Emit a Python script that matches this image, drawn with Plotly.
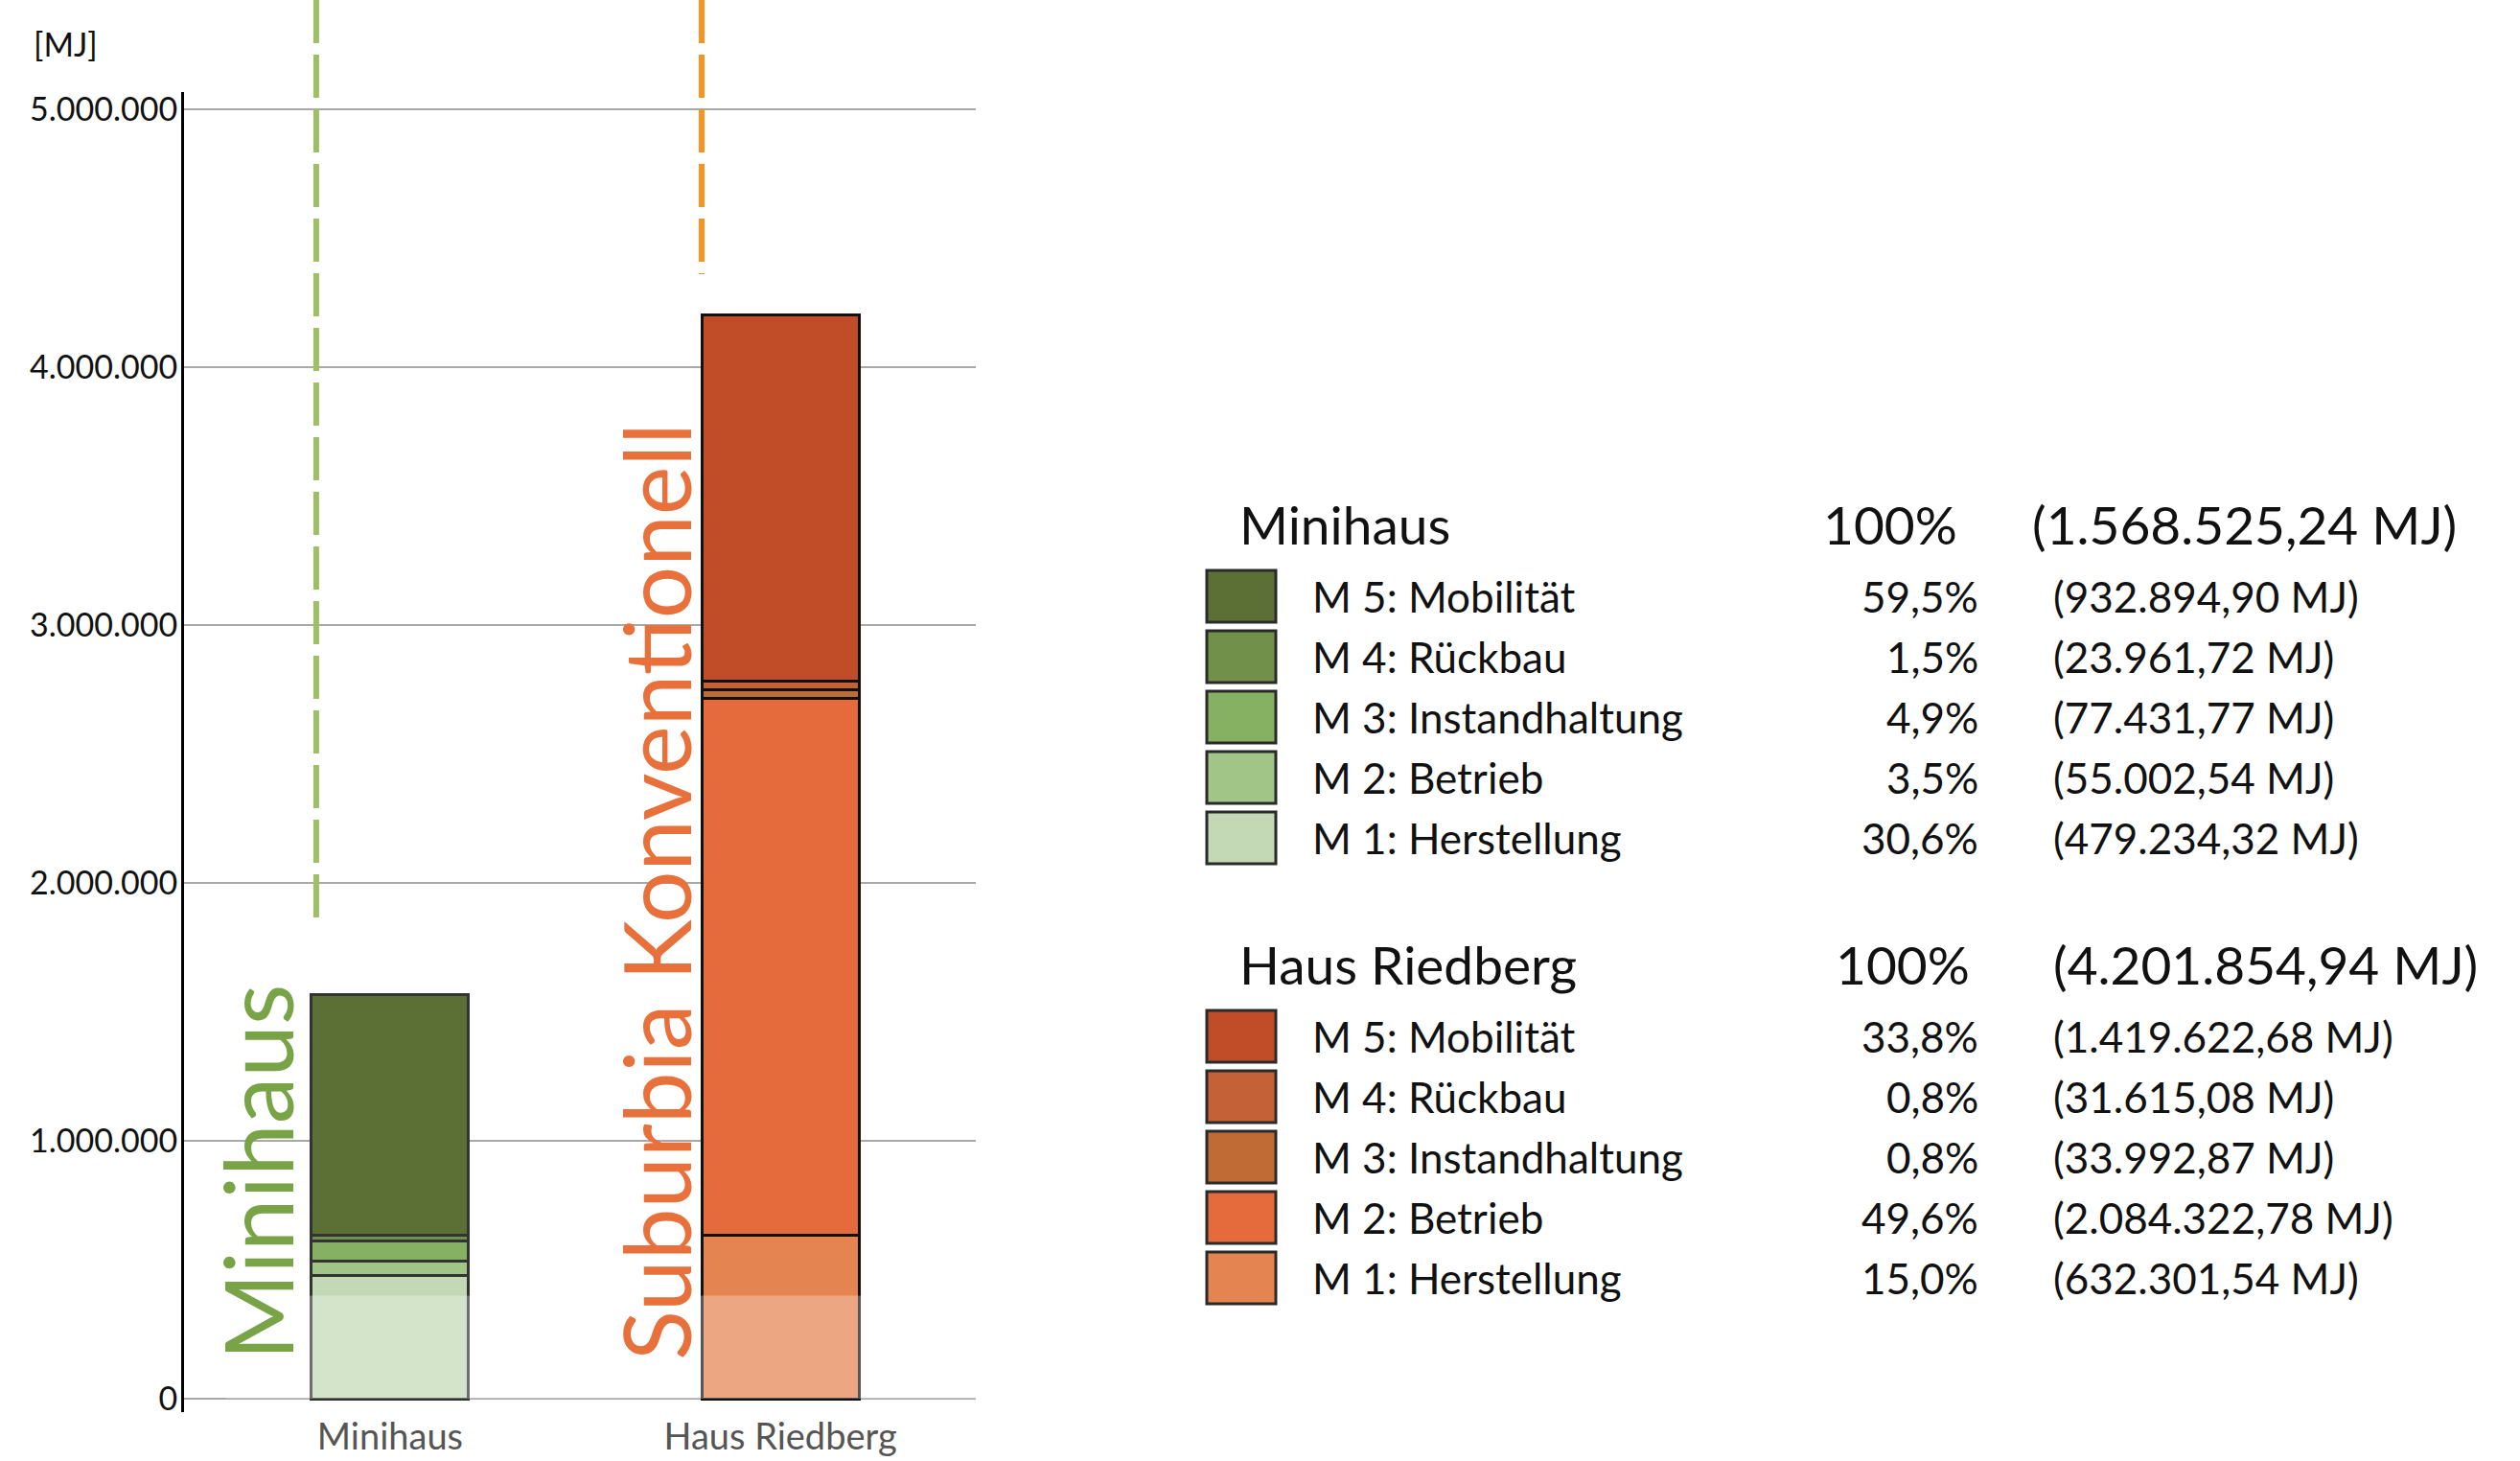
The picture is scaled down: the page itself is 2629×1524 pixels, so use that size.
import plotly.graph_objects as go

W, H = 2629, 1524

houses = ['Minihaus', 'Haus Riedberg']
modules = ['M 1: Herstellung', 'M 2: Betrieb', 'M 3: Instandhaltung', 'M 4: Rückbau', 'M 5: Mobilität']
minihaus_mj = [479234.32, 55002.54, 77431.77, 23961.72, 932894.90]
riedberg_mj = [632301.54, 2084322.78, 33992.87, 31615.08, 1419622.68]
totals_mj = [1568525.24, 4201854.94]
ytick_vals = [0, 1000000, 2000000, 3000000, 4000000, 5000000]
ytick_text = ['0', '1.000.000', '2.000.000', '3.000.000', '4.000.000', '5.000.000']

green = ['#C3D9B5', '#A0C586', '#86B062', '#71904A', '#5C7035']
orange = ['#E48450', '#E56B3C', '#C06A35', '#C46136', '#C04D28']

FONT = 'Lato, Open Sans, sans-serif'

# plot area in pixels
L, R, T, B = 192, 1018, 96, 1473
XR = [-0.528, 1.501]
BAR_W = 0.403


def px_x(px):
    return (px - L) / (R - L)


def px_y(py):
    return (B - py) / (B - T)


def cat_to_paper(v):
    return (v - XR[0]) / (XR[1] - XR[0])


def de_num(v):
    s = f'{v:,.2f}'
    return s.replace(',', '#').replace('.', ',').replace('#', '.')


def de_pct(v, total):
    return f'{100 * v / total:.1f}'.replace('.', ',') + '%'


fig = go.Figure()
for i, m in enumerate(modules):
    fig.add_trace(go.Bar(
        x=[0, 1],
        y=[minihaus_mj[i], riedberg_mj[i]],
        name=m,
        width=BAR_W,
        marker=dict(color=[green[i], orange[i]],
                    line=dict(color=['#333333', '#111111'], width=3)),
        showlegend=False,
    ))

shapes = []
# dashed markers above the bars
for k, col, y_end in [(0, '#A0BE63', 960), (1, '#F7931E', 286)]:
    xp = cat_to_paper(k - BAR_W / 2) + (5 / (R - L) if k == 0 else 0)
    shapes.append(dict(type='line', xref='paper', yref='paper',
                       x0=xp, x1=xp, y0=px_y(0), y1=px_y(y_end),
                       line=dict(color=col, width=6, dash='45px,12px')))
# white fade at the bottom
shapes.append(dict(type='rect', xref='paper', yref='y', x0=px_x(236), x1=1,
                   y0=0, y1=400000, fillcolor='rgba(255,255,255,0.29)',
                   line=dict(width=0), layer='above'))

annotations = [
    dict(text='[MJ]', xref='paper', yref='paper', x=px_x(33), y=px_y(45),
         xanchor='left', yanchor='middle', showarrow=False,
         font=dict(size=34, color='#111111', family=FONT)),
    dict(text='Minihaus', xref='paper', yref='paper', x=px_x(268), y=px_y(1421),
         xanchor='center', yanchor='bottom', textangle=-90, showarrow=False,
         font=dict(size=98, color='#78A347', family=FONT)),
    dict(text='Suburbia Konventionell', xref='paper', yref='paper', x=px_x(683), y=px_y(1421),
         xanchor='center', yanchor='bottom', textangle=-90, showarrow=False,
         font=dict(size=96, color='#E8703A', family=FONT)),
]

# legend table
groups = [(minihaus_mj, green, 547, 622, 2044, 2118), (riedberg_mj, orange, 1006, 1081, 2057, 2140)]
for g, (vals, cols, hy, ry, pct_x, tot_x) in enumerate(groups):
    annotations.append(dict(text=houses[g], xref='paper', yref='paper', x=px_x(1291), y=px_y(hy),
                            xanchor='left', yanchor='middle', showarrow=False,
                            font=dict(size=55, color='#111111', family=FONT)))
    annotations.append(dict(text='100%', xref='paper', yref='paper', x=px_x(pct_x), y=px_y(hy),
                            xanchor='right', yanchor='middle', showarrow=False,
                            font=dict(size=55, color='#111111', family=FONT)))
    annotations.append(dict(text='(' + de_num(totals_mj[g]) + ' MJ)', xref='paper', yref='paper',
                            x=px_x(tot_x), y=px_y(hy),
                            xanchor='left', yanchor='middle', showarrow=False,
                            font=dict(size=55, color='#111111', family=FONT)))
    for r, i in enumerate(range(4, -1, -1)):
        yc = ry + 63 * r
        shapes.append(dict(type='rect', xref='paper', yref='paper',
                           x0=px_x(1259), x1=px_x(1331), y0=px_y(yc - 27), y1=px_y(yc + 27),
                           fillcolor=cols[i], line=dict(color='#2a2a2a', width=3)))
        annotations.append(dict(text=modules[i], xref='paper', yref='paper', x=px_x(1367), y=px_y(yc),
                                xanchor='left', yanchor='middle', showarrow=False,
                                font=dict(size=44, color='#111111', family=FONT)))
        annotations.append(dict(text=de_pct(vals[i], totals_mj[g]), xref='paper', yref='paper',
                                x=px_x(2066), y=px_y(yc), xanchor='right', yanchor='middle',
                                showarrow=False, font=dict(size=44, color='#111111', family=FONT)))
        annotations.append(dict(text='(' + de_num(vals[i]) + ' MJ)', xref='paper', yref='paper',
                                x=px_x(2140), y=px_y(yc), xanchor='left', yanchor='middle',
                                showarrow=False, font=dict(size=44, color='#111111', family=FONT)))

fig.update_layout(
    barmode='stack',
    width=W, height=H,
    margin=dict(l=L, r=W - R, t=T, b=H - B, pad=0),
    plot_bgcolor='white', paper_bgcolor='white',
    font=dict(family=FONT),
    shapes=shapes,
    annotations=annotations,
    xaxis=dict(range=XR, tickvals=[0, 1], ticktext=houses, showgrid=False, zeroline=False,
               showline=False, ticks='', automargin=False,
               tickfont=dict(size=38, color='#555555')),
    yaxis=dict(range=[-52000, 5067000], tickvals=ytick_vals, ticktext=ytick_text,
               showgrid=True, gridcolor='#A8A8A8', gridwidth=2, zeroline=False,
               showline=True, linecolor='#000000', linewidth=3, ticks='', automargin=False,
               ticklabelstandoff=-3, tickfont=dict(size=34, color='#111111')),
)

# the page body has a default 8px margin; drop it so the figure sits in the corner
fig.write_html('out.html', config={'displayModeBar': False},
               post_script="document.body.style.margin='0';")
